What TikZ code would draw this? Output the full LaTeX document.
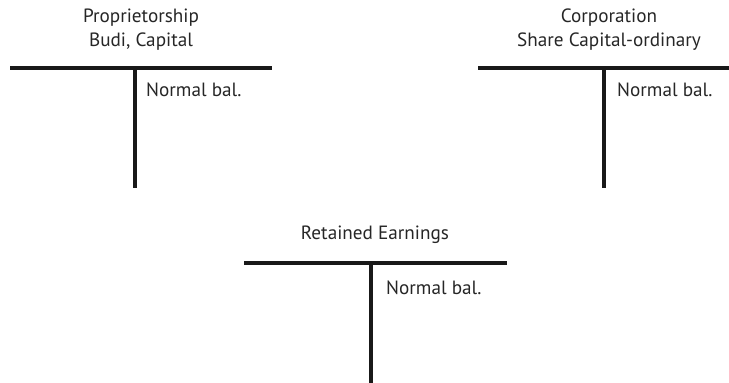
\documentclass[tikz,border=0pt]{standalone}
\usepackage{fontspec}
\setmainfont{PT Sans}
\begin{document}
\begin{tikzpicture}[x=1pt,y=-1pt,
  tline/.style={line width=4.6pt,black!90},
  ttl/.style={inner sep=0pt,anchor=center,font=\fontsize{19.2}{22}\selectfont,text=black!85},
  lbl/.style={inner sep=0pt,anchor=west,font=\fontsize{19.2}{22}\selectfont,text=black!85}]
\useasboundingbox (0,0) rectangle (729,383);
% left T
\coordinate (l1) at (10,68); \coordinate (l2) at (272,68);
\coordinate (lt) at (135,68); \coordinate (lb) at (135,188);
\draw[tline] (l1) -- (l2);
\draw[tline] (lt) -- (lb);
\node[ttl] (lta) at (141,18) {Proprietorship};
\node[ttl] (ltb) at (141,42) {Budi, Capital};
\node[lbl] (ln) at (146,90) {Normal bal.};
% right T
\coordinate (r1) at (478,68); \coordinate (r2) at (729,68);
\coordinate (rt) at (604,68); \coordinate (rb) at (604,188);
\draw[tline] (r1) -- (r2);
\draw[tline] (rt) -- (rb);
\node[ttl] (rta) at (609,18) {Corporation};
\node[ttl] (rtb) at (609,42) {Share Capital-ordinary};
\node[lbl] (rn) at (617,90) {Normal bal.};
% bottom T
\coordinate (b1) at (244,263); \coordinate (b2) at (507,263);
\coordinate (bt) at (371,263); \coordinate (bb) at (371,383);
\draw[tline] (b1) -- (b2);
\draw[tline] (bt) -- (bb);
\node[ttl] (bta) at (375,235) {Retained Earnings};
\node[lbl] (bn) at (386,288) {Normal bal.};
\end{tikzpicture}
\end{document}
